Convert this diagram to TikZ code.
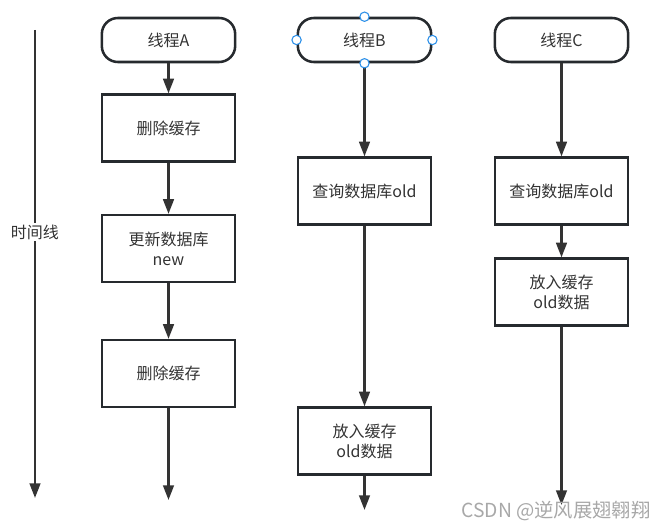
\documentclass[tikz,border=0pt]{standalone}
\usepackage{fontspec}
\setmainfont{Noto Sans CJK SC}
\usetikzlibrary{arrows.meta}
\definecolor{ln}{HTML}{333333}
\definecolor{bd}{HTML}{262A2E}
\definecolor{txt}{HTML}{333333}
\definecolor{handle}{HTML}{2B8FE8}
\definecolor{wm}{HTML}{A8A8A8}
\begin{document}
\begin{tikzpicture}[x=0.75pt,y=-0.75pt,
  stepbox/.style={draw=bd, line width=1.9pt, minimum width=100pt, minimum height=50pt,
    inner sep=0pt, align=center, text=txt, font=\fontsize{12pt}{15pt}\selectfont},
  term/.style={stepbox, rounded corners=12pt, minimum height=33pt},
  flow/.style={draw=ln, line width=1.8pt, -{Triangle[width=8pt,length=11pt]}},
  hd/.style={circle, draw=handle, fill=white, line width=0.8pt, minimum size=7pt, inner sep=0pt}]
\useasboundingbox (0,0) rectangle (664,530);

% time line
\coordinate (t0) at (35,30);
\coordinate (t1) at (35,498);
\draw[flow] (t0) -- (t1);
\node[fill=white, inner sep=1.5pt, text=txt, font=\fontsize{12pt}{15pt}\selectfont] (tl) at (35,232) {时间线};

% thread A
\node[term] (ta) at (168.5,40) {线程A};
\node[stepbox] (a1) at (168.5,128) {删除缓存};
\node[stepbox] (a2) at (168.5,248.5) {更新数据库\\new};
\node[stepbox] (a3) at (168.5,373.5) {删除缓存};
\coordinate (ae) at (168.5,500);
\draw[flow] (ta) -- (a1);
\draw[flow] (a1) -- (a2);
\draw[flow] (a2) -- (a3);
\draw[flow] (a3) -- (ae);

% thread B
\node[term] (tb) at (364.5,40) {线程B};
\node[stepbox] (b1) at (364.5,191) {查询数据库old};
\node[stepbox] (b2) at (364.5,441) {放入缓存\\old数据};
\coordinate (be) at (364.5,510);
\draw[flow] (tb) -- (b1);
\draw[flow] (b1) -- (b2);
\draw[flow] (b2) -- (be);

% selection handles on thread B
\node[hd] (h1) at (tb.north) {};
\node[hd] (h2) at (tb.south) {};
\node[hd] (h3) at (tb.west) {};
\node[hd] (h4) at (tb.east) {};

% thread C
\node[term] (tc) at (561.5,40) {线程C};
\node[stepbox] (c1) at (561.5,191) {查询数据库old};
\node[stepbox] (c2) at (561.5,292) {放入缓存\\old数据};
\coordinate (ce) at (561.5,505);
\draw[flow] (tc) -- (c1);
\draw[flow] (c1) -- (c2);
\draw[flow] (c2) -- (ce);

% watermark
\node[text=wm, font=\fontsize{14.5pt}{17pt}\selectfont, inner sep=0pt] (wmk) at (556,511) {CSDN @逆风展翅翱翔};
\end{tikzpicture}
\end{document}
